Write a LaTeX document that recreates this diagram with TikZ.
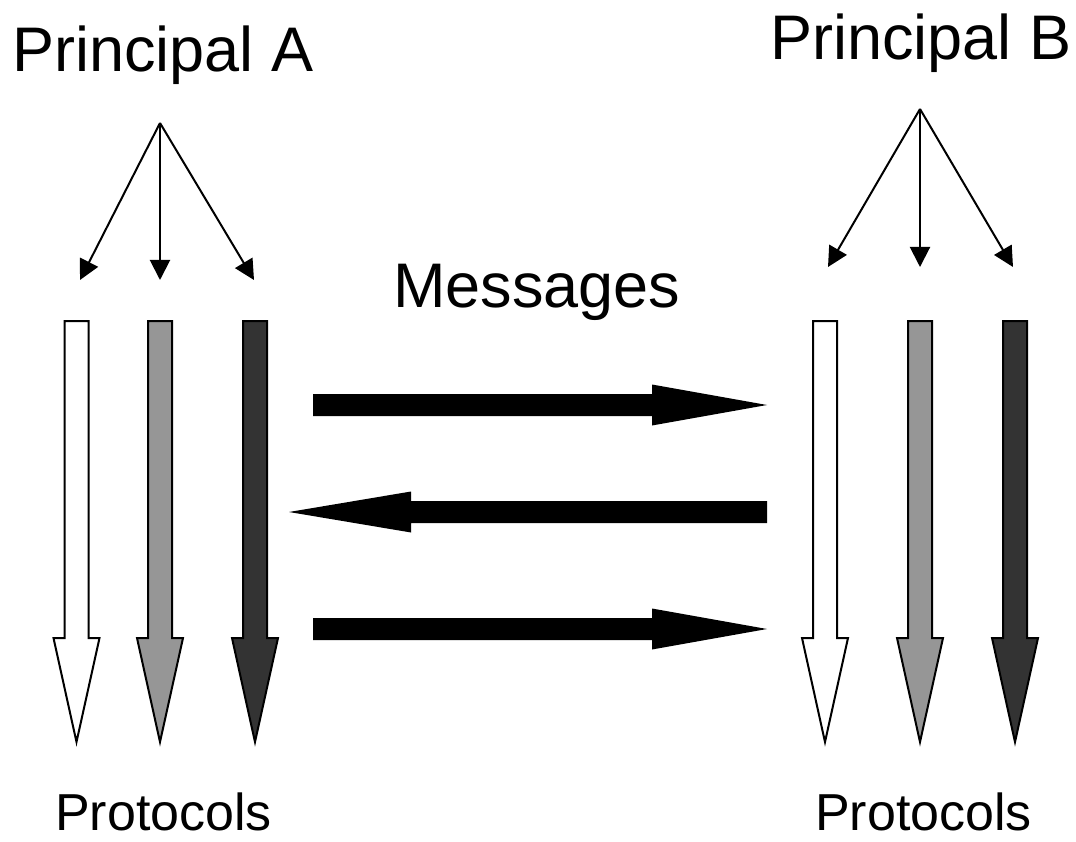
\documentclass[tikz,border=0pt]{standalone}
\usepackage{fontspec}
\setmainfont{Liberation Sans}
\usetikzlibrary{arrows.meta}

% block arrow pointing down: centre x, top y, head base y, tip y, fill
\newcommand{\downblock}[5]{%
  \draw[blockline, fill=#5]
    (#1-12,#2) -- (#1+12,#2) -- (#1+12,#3) -- (#1+23,#3) -- (#1,#4)
    -- (#1-23,#3) -- (#1-12,#3) -- cycle;}
% horizontal message arrow: tail x, head base x, tip x, centre y
\newcommand{\msgarrow}[4]{%
  \fill[black]
    (#1,#4-11) -- (#2,#4-11) -- (#2,#4-20.5) -- (#3,#4) -- (#2,#4+20.5)
    -- (#2,#4+11) -- (#1,#4+11) -- cycle;}

\tikzset{
  blockline/.style={draw=black, line width=2pt, line join=miter},
  fanline/.style={line width=2pt, -{Triangle[length=20pt,width=20pt]}},
  bigtext/.style={font=\fontsize{63}{70}\selectfont, inner sep=0pt, anchor=base west},
  midtext/.style={font=\fontsize{63}{70}\selectfont, inner sep=0pt, anchor=base west},
  smalltext/.style={font=\fontsize{52}{60}\selectfont, inner sep=0pt, anchor=base west},
}

\begin{document}
\begin{tikzpicture}[x=1pt, y=-1pt]
\useasboundingbox (0,0) rectangle (1076,842);

% titles
\node[bigtext] (pa) at (12,72) {Principal A};
\node[bigtext] (pb) at (770,60) {Principal B};
\node[midtext] (msg) at (393,308) {Messages};
\node[smalltext] (prla) at (55,830) {Protocols};
\node[smalltext] (prlb) at (815,830) {Protocols};

% fan of thin arrows, left principal
\coordinate (aTop) at (160,123);
\coordinate (a1) at (80,280);
\coordinate (a2) at (160,280);
\coordinate (a3) at (254,280);
\draw[fanline] (aTop) -- (a1);
\draw[fanline] (aTop) -- (a2);
\draw[fanline] (aTop) -- (a3);

% fan of thin arrows, right principal
\coordinate (bTop) at (920,109);
\coordinate (b1) at (828,267);
\coordinate (b2) at (920,267);
\coordinate (b3) at (1013,267);
\draw[fanline] (bTop) -- (b1);
\draw[fanline] (bTop) -- (b2);
\draw[fanline] (bTop) -- (b3);

% protocol stacks
\downblock{76.5}{321}{638}{742}{white}
\downblock{160}{321}{638}{742}{black!41}
\downblock{255}{321}{638}{742}{black!80}
\downblock{825}{321}{638}{742}{white}
\downblock{920}{321}{638}{742}{black!41}
\downblock{1015}{321}{638}{742}{black!80}

% message exchange
\msgarrow{313}{652}{767}{405}
\msgarrow{767}{411}{289}{512}
\msgarrow{313}{652}{767}{629}
\end{tikzpicture}
\end{document}
